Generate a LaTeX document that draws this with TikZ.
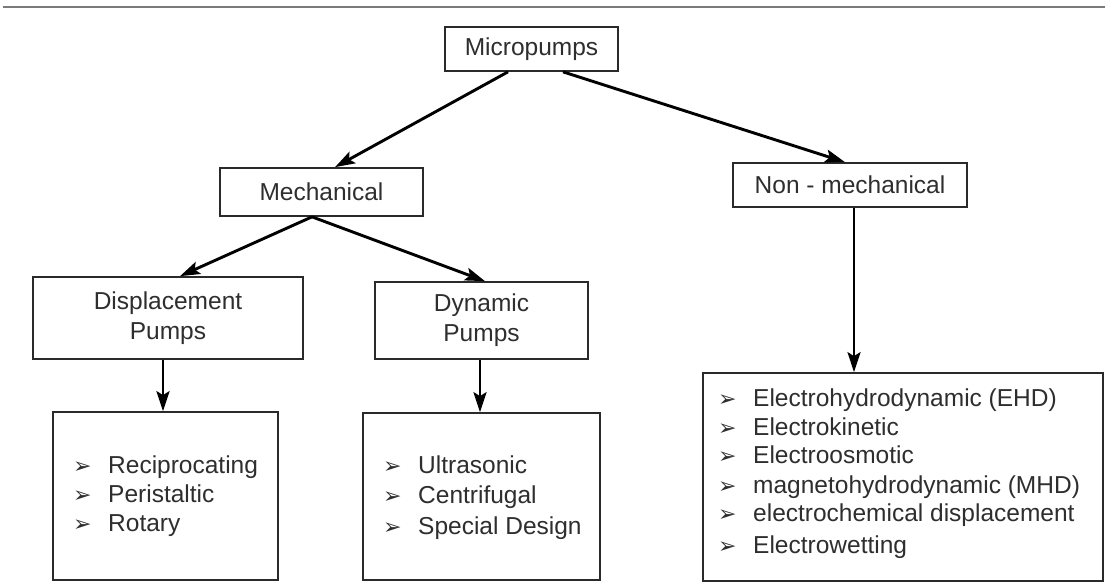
\documentclass[tikz,border=0pt]{standalone}
\usepackage{fontspec}
\setmainfont{Liberation Sans}
\newfontfamily\dejavu{DejaVu Sans}
\usetikzlibrary{arrows.meta}
\definecolor{txt}{HTML}{2E2E2E}
\definecolor{edge}{HTML}{2A2A2A}
\definecolor{rule}{HTML}{7A7A7A}
\newcommand{\bul}{\makebox[35pt][l]{\dejavu\bfseries\fontsize{22pt}{22pt}\selectfont ➢}}
\tikzset{
  box/.style={draw=edge, line width=1.7pt, fill=white, inner sep=0pt, text=txt,
    font=\fontsize{24.5pt}{30pt}\selectfont, align=center},
  item/.style={inner sep=0pt, anchor=base west, text=txt, font=\fontsize{24.5pt}{30pt}\selectfont},
  arr/.style={draw=black, line width=2.9pt, -{Stealth[length=20pt,width=13pt,inset=4pt]}},
}
\begin{document}
\begin{tikzpicture}[x=1pt,y=-1pt]
\useasboundingbox (0,0) rectangle (1105,583);
\fill[white] (0,0) rectangle (1105,583);
\coordinate (ruleL) at (3,7);
\coordinate (ruleR) at (1105,7);
\draw[rule, line width=2pt] (ruleL) -- (ruleR);

\node[box, minimum width=173pt, minimum height=44pt] (micro) at (531.5,49) {Micropumps};
\node[box, minimum width=203pt, minimum height=48pt] (mech) at (321.5,192) {Mechanical};
\node[box, minimum width=234pt, minimum height=44pt] (nonmech) at (850,185) {Non - mechanical};
\node[box, minimum width=270pt, minimum height=82pt] (disp) at (168,318) {Displacement\\Pumps};
\node[box, minimum width=213pt, minimum height=77pt] (dyn) at (481.5,320.5) {Dynamic\\Pumps};
\node[box, minimum width=225pt, minimum height=168pt] (lbox) at (165.5,496) {};
\node[box, minimum width=237pt, minimum height=167pt] (mbox) at (481.5,496.5) {};
\node[box, minimum width=400pt, minimum height=208pt] (rbox) at (903,477) {};

% left list
\node[item] (l1) at (73,473) {\bul Reciprocating};
\node[item] (l2) at (73,502) {\bul Peristaltic};
\node[item] (l3) at (73,531) {\bul Rotary};
% middle list
\node[item] (m1) at (383,473) {\bul Ultrasonic};
\node[item] (m2) at (383,503) {\bul Centrifugal};
\node[item] (m3) at (383,534) {\bul Special Design};
% right list
\node[item] (r1) at (718,406) {\bul Electrohydrodynamic (EHD)};
\node[item] (r2) at (718,435) {\bul Electrokinetic};
\node[item] (r3) at (718,463) {\bul Electroosmotic};
\node[item] (r4) at (718,493) {\bul magnetohydrodynamic (MHD)};
\node[item] (r5) at (718,521) {\bul electrochemical displacement};
\node[item] (r6) at (718,553) {\bul Electrowetting};

% connectors
\draw[arr] ([xshift=-23.5pt]micro.south) -- ([xshift=13.5pt]mech.north);
\draw[arr] ([xshift=31.5pt]micro.south) -- ([xshift=-5pt]nonmech.north);
\draw[arr] ([xshift=-9.5pt]mech.south) -- ([xshift=12pt]disp.north);
\draw[arr] ([xshift=-9.5pt]mech.south) -- ([xshift=3.5pt]dyn.north);
\draw[arr] ([xshift=-5pt]disp.south) -- ([xshift=-5pt]disp.south |- lbox.north);
\draw[arr] ([xshift=-1.5pt]dyn.south) -- ([xshift=-1.5pt]dyn.south |- mbox.north);
\draw[arr] ([xshift=4pt]nonmech.south) -- ([xshift=4pt]nonmech.south |- rbox.north);
\end{tikzpicture}
\end{document}
